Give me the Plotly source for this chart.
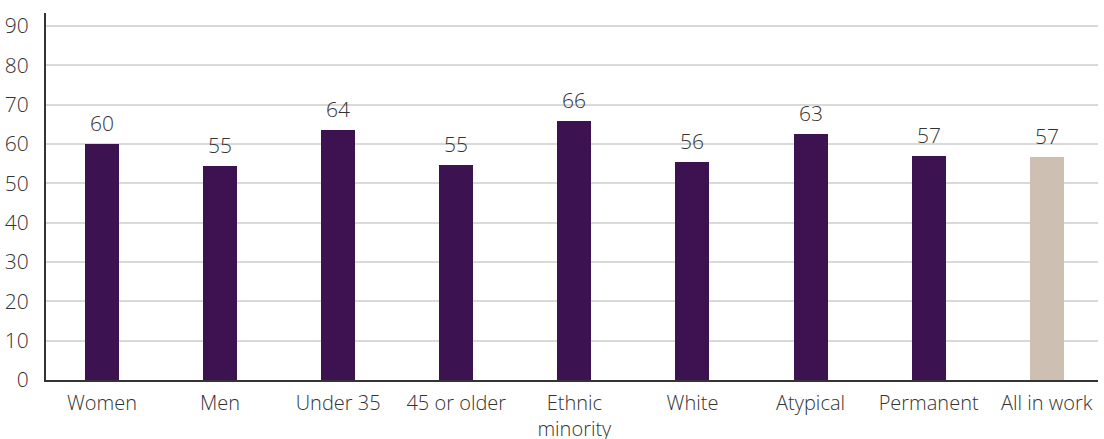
import plotly.graph_objects as go

categories = ["Women", "Men", "Under 35", "45 or older", "Ethnic<br>minority",
              "White", "Atypical", "Permanent", "All in work"]
values = [60.0, 54.4, 63.6, 54.7, 65.9, 55.4, 62.6, 56.95, 56.7]
labels = ["60", "55", "64", "55", "66", "56", "63", "57", "57"]
colors = ["#3d1250"] * 8 + ["#cdbfb2"]

FONT = "Open Sans"
TXT = "#333333"

fig = go.Figure()
fig.add_trace(go.Bar(
    x=categories, y=values, marker=dict(color=colors, line=dict(width=0)),
    width=0.288, hoverinfo="skip",
))

for c, v, t in zip(categories, values, labels):
    fig.add_annotation(x=c, y=v, text=t, showarrow=False, yanchor="bottom",
                       yshift=5, font=dict(family=FONT, size=21, color=TXT, weight=300))

fig.update_layout(
    width=1104, height=439,
    margin=dict(l=46, r=6, t=13, b=59),
    paper_bgcolor="white", plot_bgcolor="white",
    showlegend=False,
    bargap=0,
)
fig.update_xaxes(
    type="category", range=[-0.474, 8.434], automargin=False,
    showline=True, linecolor="#333333", linewidth=2,
    ticks="", showgrid=False, ticklabelstandoff=4,
    tickfont=dict(family=FONT, size=20, color=TXT, weight=300),
)
fig.update_yaxes(
    range=[0, 93.3], tickvals=list(range(0, 100, 10)), automargin=False,
    showline=True, linecolor="#333333", linewidth=2,
    showgrid=True, gridcolor="#d9d9d9", gridwidth=1.5,
    zeroline=False, ticks="", ticklabelstandoff=11,
    tickfont=dict(family=FONT, size=21, color=TXT, weight=300),
)

fig.write_html(
    "out.html",
    config={"displayModeBar": False},
    post_script="document.body.style.margin='0';document.body.style.overflow='hidden';",
)
